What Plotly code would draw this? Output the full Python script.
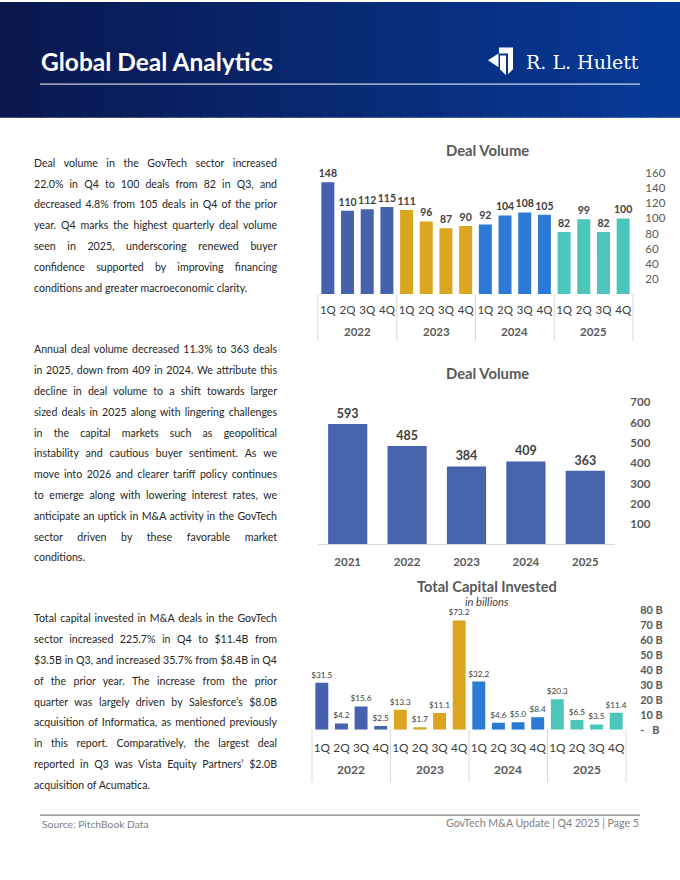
import json
import plotly.graph_objects as go

W, H = 680, 880


def px(x):
    return x / W


def py(y):
    return 1 - y / H


# ---------------- data ----------------
quarters = ["1Q", "2Q", "3Q", "4Q"]
years = ["2022", "2023", "2024", "2025"]
deal_volume_q = [148, 110, 112, 115, 111, 96, 87, 90, 92, 104, 108, 105, 82, 99, 82, 100]
annual_years = ["2021", "2022", "2023", "2024", "2025"]
annual_volume = [593, 485, 384, 409, 363]
capital_q = [31.5, 4.2, 15.6, 2.5, 13.3, 1.7, 11.1, 73.2, 32.2, 4.6, 5.0, 8.4, 20.3, 6.5, 3.5, 11.4]
year_colors = {"2022": "#4662AC", "2023": "#DBA521", "2024": "#2A7AD6", "2025": "#4CC6BA"}
annual_color = "#4763AB"
vol_ticks = [20, 40, 60, 80, 100, 120, 140, 160]
annual_ticks = [100, 200, 300, 400, 500, 600, 700]
cap_ticks = [0, 10, 20, 30, 40, 50, 60, 70, 80]
cap_ticktext = ["-\u00a0\u00a0\u00a0B"] + [f"{v} B" for v in cap_ticks[1:]]

# quarter categories, made unique per year with invisible zero-width suffixes;
# year labels and group dividers are drawn below the axis separately
quarter_cats = [q + "\u200b" * (k + 1) for k, _ in enumerate(years) for q in quarters]
bar_colors = [year_colors[y] for y in years for _ in quarters]

paragraphs = [
    [
        "Deal volume in the GovTech sector increased",
        "22.0% in Q4 to 100 deals from 82 in Q3, and",
        "decreased 4.8% from 105 deals in Q4 of the prior",
        "year. Q4 marks the highest quarterly deal volume",
        "seen in 2025, underscoring renewed buyer",
        "confidence supported by improving financing",
        "conditions and greater macroeconomic clarity.",
    ],
    [
        "Annual deal volume decreased 11.3% to 363 deals",
        "in 2025, down from 409 in 2024. We attribute this",
        "decline in deal volume to a shift towards larger",
        "sized deals in 2025 along with lingering challenges",
        "in the capital markets such as geopolitical",
        "instability and cautious buyer sentiment. As we",
        "move into 2026 and clearer tariff policy continues",
        "to emerge along with lowering interest rates, we",
        "anticipate an uptick in M&A activity in the GovTech",
        "sector driven by these favorable market",
        "conditions.",
    ],
    [
        "Total capital invested in M&A deals in the GovTech",
        "sector increased 225.7% in Q4 to $11.4B from",
        "$3.5B in Q3, and increased 35.7% from $8.4B in Q4",
        "of the prior year. The increase from the prior",
        "quarter was largely driven by Salesforce\u2019s $8.0B",
        "acquisition of Informatica, as mentioned previously",
        "in this report. Comparatively, the largest deal",
        "reported in Q3 was Vista Equity Partners\u2019 $2.0B",
        "acquisition of Acumatica.",
    ],
]

FONT = "Lato, 'Open Sans', sans-serif"
GRAY = "#595959"
DARK = "#404040"

# subplot geometry (pixels on the page)
C1 = dict(x0=318, x1=633, base=293.3, top=163.4)
C2 = dict(x0=318, x1=615, base=546.5, top=398.9)
C3 = dict(x0=312, x1=626, base=734.0, top=610.2)

fig = go.Figure()

fig.add_trace(go.Bar(
    x=quarter_cats, y=deal_volume_q, marker=dict(color=bar_colors, line=dict(width=0)),
    texttemplate="%{y}", textposition="outside", cliponaxis=False,
    constraintext="none", textfont=dict(family=FONT, size=10.5, color=DARK, weight="bold"),
    xaxis="x", yaxis="y", hoverinfo="skip",
))
fig.add_trace(go.Bar(
    x=annual_years, y=annual_volume, marker=dict(color=annual_color, line=dict(width=0)),
    texttemplate="%{y}", textposition="outside", cliponaxis=False, constraintext="none",
    textfont=dict(family=FONT, size=12.5, color=DARK, weight="bold"),
    xaxis="x2", yaxis="y2", hoverinfo="skip",
))
fig.add_trace(go.Bar(
    x=quarter_cats, y=capital_q, marker=dict(color=bar_colors, line=dict(width=0)),
    texttemplate="$%{y:.1f}", textposition="outside", cliponaxis=False, constraintext="none",
    textfont=dict(family=FONT, size=8.2, color=DARK),
    xaxis="x3", yaxis="y3", hoverinfo="skip",
))

common_x = dict(showgrid=False, zeroline=False, fixedrange=True)
common_y = dict(showgrid=False, zeroline=False, side="right", ticks="outside",
                tickcolor="rgba(0,0,0,0)", showline=False, fixedrange=True)

fig.update_layout(
    width=W, height=H, margin=dict(l=0, r=0, t=0, b=0),
    paper_bgcolor="white", plot_bgcolor="white", showlegend=False,
    bargap=0.34, font=dict(family=FONT, color=DARK),
    xaxis=dict(domain=[px(C1["x0"]), px(C1["x1"])], anchor="y", type="category", tickangle=0,
               ticks="", ticklabelstandoff=8,
               tickfont=dict(family=FONT, size=11.5, color=DARK), showline=False, **common_x),
    yaxis=dict(domain=[py(C1["base"]), py(C1["top"])], range=[0, 170], anchor="x", tickvals=vol_ticks,
               ticklen=9, tickfont=dict(family=FONT, size=11.5, color=GRAY), **common_y),
    xaxis2=dict(domain=[px(C2["x0"]), px(C2["x1"])], anchor="y2", showline=True, linecolor="#d9d9d9",
                linewidth=1, ticks="outside", ticklen=7, tickcolor="rgba(0,0,0,0)",
                tickfont=dict(family=FONT, size=11.5, color=GRAY, weight="bold"), **common_x),
    yaxis2=dict(domain=[py(C2["base"]), py(C2["top"])], range=[0, 720], anchor="x2", tickvals=annual_ticks,
                ticklen=12, tickfont=dict(family=FONT, size=11.5, color=GRAY, weight="bold"), **common_y),
    xaxis3=dict(domain=[px(C3["x0"]), px(C3["x1"])], anchor="y3", type="category", tickangle=0,
                ticks="", ticklabelstandoff=10,
                tickfont=dict(family=FONT, size=11.8, color=DARK), showline=False, **common_x),
    yaxis3=dict(domain=[py(C3["base"]), py(C3["top"])], range=[0, 82], anchor="x3", tickvals=cap_ticks,
                ticktext=cap_ticktext, ticklen=11,
                tickfont=dict(family=FONT, size=11, color=GRAY, weight="bold"), **common_y),
)

shapes = []
anns = []

# header gradient band
n = 34
c0, c1 = (10, 24, 78), (6, 58, 152)
for i in range(n):
    t = i / (n - 1)
    col = tuple(round(c0[k] + (c1[k] - c0[k]) * t) for k in range(3))
    shapes.append(dict(type="rect", xref="paper", yref="paper", x0=px(i * W / n), x1=px((i + 1) * W / n + 1),
                       y0=py(115), y1=py(-2), fillcolor="rgb(%d,%d,%d)" % col, line=dict(width=0), layer="below"))
shapes.append(dict(type="line", xref="paper", yref="paper", x0=px(40), x1=px(640), y0=py(81), y1=py(81),
                   line=dict(color="white", width=1)))
shapes.append(dict(type="line", xref="paper", yref="paper", x0=px(40), x1=px(640), y0=py(820.5), y1=py(820.5),
                   line=dict(color="#808080", width=1.2)))

# year group dividers + year labels for the two quarterly charts
ncat = len(years) * len(quarters)
for geo, div_bottom, year_y, ysize in [(C1, 341, 331.5, 11.5), (C3, 787, 774, 12)]:
    step = (geo["x1"] - geo["x0"]) / ncat
    for k in range(len(years) + 1):
        xx = geo["x0"] + k * len(quarters) * step
        shapes.append(dict(type="line", xref="paper", yref="paper", x0=px(xx), x1=px(xx),
                           y0=py(geo["base"]), y1=py(div_bottom), line=dict(color="#d9d9d9", width=1)))
    for k, yr in enumerate(years):
        xc = geo["x0"] + (k * len(quarters) + len(quarters) / 2) * step
        anns.append(dict(text=f"<b>{yr}</b>", x=px(xc), y=py(year_y), xref="paper", yref="paper",
                         xanchor="center", yanchor="middle", showarrow=False,
                         font=dict(family=FONT, size=ysize, color=GRAY)))


def poly(points):
    s = "M " + " L ".join(f"{px(x):.5f},{py(y):.5f}" for x, y in points) + " Z"
    return dict(type="path", xref="paper", yref="paper", path=s, fillcolor="white", line=dict(width=0))


# logo icon
shapes.append(poly([(488, 57), (498.5, 50), (498.5, 64)]))
shapes.append(poly([(499, 44), (513, 44), (513, 66), (508, 71), (508, 50), (499, 50)]))
shapes.append(poly([(500, 52), (506, 52), (506, 72), (500, 66)]))

anns.append(dict(text="<b>Global Deal Analytics</b>", x=px(39), y=py(58), xref="paper", yref="paper",
                 xanchor="left", yanchor="middle", showarrow=False,
                 font=dict(family=FONT, size=24.5, color="white")))
anns.append(dict(text="R. L. Hulett", x=px(641), y=py(59), xref="paper", yref="paper",
                 xanchor="right", yanchor="middle", showarrow=False,
                 font=dict(family="'DejaVu Serif', 'Liberation Serif', serif", size=19, color="white")))

for txt, yy, sz, col in [("<b>Deal Volume</b>", 148, 14.8, GRAY), ("<b>Deal Volume</b>", 373, 14.8, GRAY),
                         ("<b>Total Capital Invested</b>", 589, 14.6, GRAY), ("<i>in billions</i>", 604, 11.2, DARK)]:
    anns.append(dict(text=txt, x=px(487), y=py(yy), xref="paper", yref="paper", xanchor="center",
                     yanchor="middle", showarrow=False, font=dict(family=FONT, size=sz, color=col)))

par_tops = [160.7, 349.3, 621.5]
spacing = 21.05
justify = []
for lines, top in zip(paragraphs, par_tops):
    for i, line in enumerate(lines):
        anns.append(dict(text=line, x=px(32), y=py(top + i * spacing), xref="paper", yref="paper",
                         xanchor="left", yanchor="middle", align="left", showarrow=False,
                         font=dict(family=FONT, size=10.6, color="#262626")))
        if i < len(lines) - 1:
            justify.append(line)

anns.append(dict(text="Source: PitchBook Data", x=px(39.5), y=py(829), xref="paper", yref="paper",
                 xanchor="left", yanchor="middle", showarrow=False,
                 font=dict(family=FONT, size=10.3, color="#808080")))
anns.append(dict(text="GovTech M&A Update | Q4 2025 | Page 5", x=px(641), y=py(828), xref="paper", yref="paper",
                 xanchor="right", yanchor="middle", showarrow=False,
                 font=dict(family=FONT, size=10.6, color="#808080")))

fig.update_layout(shapes=shapes, annotations=anns)

post = """
(function(){
  try {
    document.documentElement.style.margin = '0';
    document.documentElement.style.overflow = 'hidden';
    document.body.style.margin = '0';
    document.body.style.overflow = 'hidden';
    var gd = document.getElementById('{plot_id}');
    gd.style.position = 'absolute';
    gd.style.left = '0px';
    gd.style.top = '0px';
    var J = %s;
    var target = 243;
    var els = gd.querySelectorAll('text.annotation-text');
    els.forEach(function(t){
      var s = (t.textContent || '').trim();
      if (J.indexOf(s) < 0) return;
      t.style.wordSpacing = '0px';
      var w = t.getComputedTextLength();
      var n = (s.match(/ /g) || []).length;
      if (n > 0) t.style.wordSpacing = ((target - w) / n) + 'px';
    });
  } catch (e) {}
})();
""" % json.dumps(justify)

fig.write_html("out.html", post_script=post, config={"displayModeBar": False})
